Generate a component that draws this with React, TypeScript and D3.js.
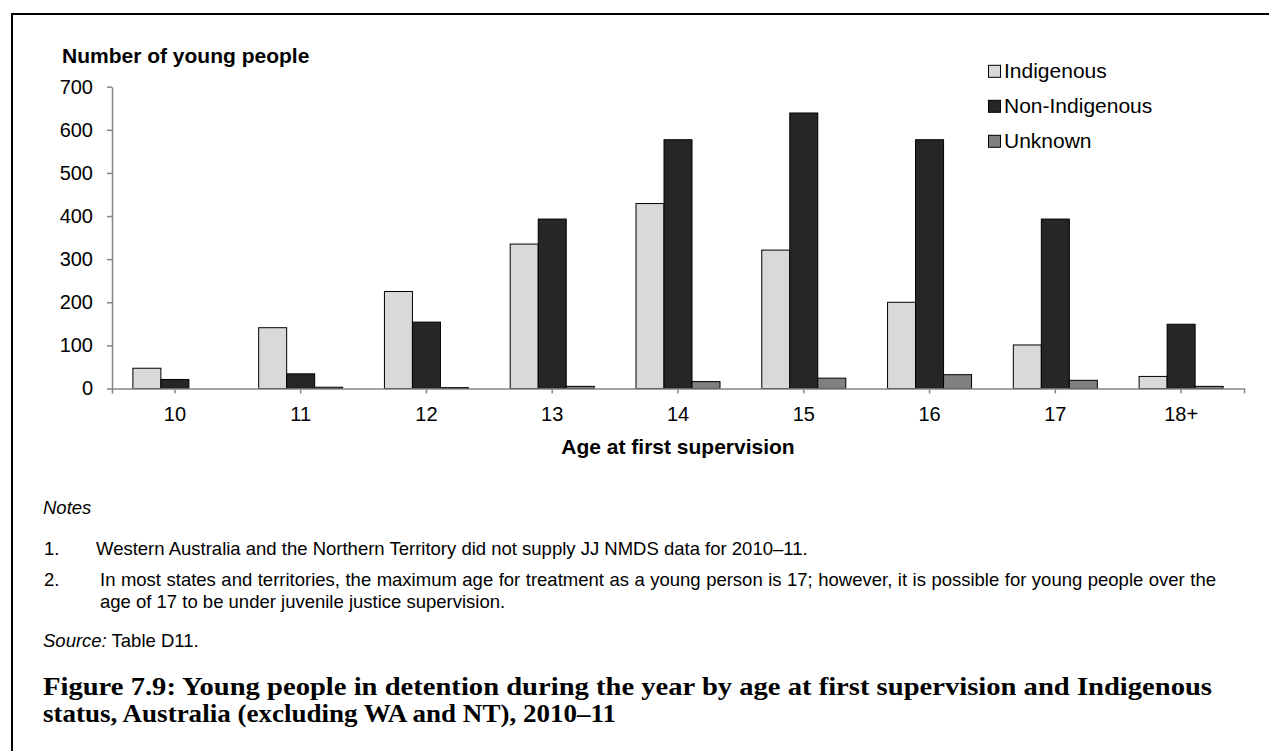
import * as d3 from "d3";
import { useEffect, useRef } from "react";

// age groups on the x axis
const ages = ["10", "11", "12", "13", "14", "15", "16", "17", "18+"];

// young people in detention
const indigenous = [47, 141, 225, 335, 429, 321, 200, 101, 28];
const nonIndigenous = [21, 34, 154, 393, 577, 639, 577, 393, 149];
const unknown = [0, 3, 2, 5, 16, 24, 32, 19, 5];

const seriesNames = ["Indigenous", "Non-Indigenous", "Unknown"];
const seriesColors = ["#d9d9d9", "#262626", "#808080"];
const yTicks = [0, 100, 200, 300, 400, 500, 600, 700];

const notes = [
    { num: "1.", lines: ["Western Australia and the Northern Territory did not supply JJ NMDS data for 2010\u201311."] },
    {
        num: "2.",
        lines: [
            "In most states and territories, the maximum age for treatment as a young person is 17; however, it is possible for young people over the",
            "age of 17 to be under juvenile justice supervision.",
        ],
    },
];

const titleLines = [
    "Figure 7.9: Young people in detention during the year by age at first supervision and Indigenous",
    "status, Australia (excluding WA and NT), 2010\u201311",
];

const sans = "'Liberation Sans', Arial, Helvetica, sans-serif";
const serif = "'Liberation Serif', 'Times New Roman', serif";

export default function App() {
    const svgRef = useRef<SVGSVGElement>(null);

    const width = 1269;
    const height = 751;

    // plot area
    const left = 112;
    const right = 1244;
    const top = 86.7;
    const bottom = 388.5;

    useEffect(() => {
        const svg = d3.select(svgRef.current);
        svg.selectAll("*").remove();

        // frame round the whole figure
        svg.append("rect")
            .attr("x", 12)
            .attr("y", 14)
            .attr("width", 1400)
            .attr("height", 900)
            .attr("fill", "none")
            .attr("stroke", "#000")
            .attr("stroke-width", 2);

        const x0 = d3.scaleBand<string>()
            .domain(ages)
            .range([left, right])
            .paddingInner(0.332)
            .paddingOuter(0.166);

        const x1 = d3.scaleBand<string>()
            .domain(seriesNames)
            .range([0, x0.bandwidth()]);

        const y = d3.scaleLinear()
            .domain([0, 700])
            .range([bottom, top]);

        const color = d3.scaleOrdinal<string, string>()
            .domain(seriesNames)
            .range(seriesColors);

        const rows = ages.map((age, i) => ({
            age,
            values: [
                { key: seriesNames[0], value: indigenous[i] },
                { key: seriesNames[1], value: nonIndigenous[i] },
                { key: seriesNames[2], value: unknown[i] },
            ],
        }));

        // bars
        const groups = svg.append("g")
            .selectAll("g")
            .data(rows)
            .join("g")
            .attr("transform", d => `translate(${x0(d.age)},0)`);

        groups.selectAll("rect")
            .data(d => d.values.filter(v => v.value > 0))
            .join("rect")
            .attr("x", d => x1(d.key)!)
            .attr("y", d => y(d.value))
            .attr("width", x1.bandwidth())
            .attr("height", d => bottom - y(d.value))
            .attr("fill", d => color(d.key))
            .attr("stroke", "#000")
            .attr("stroke-width", 1);

        // y axis
        const yAxis = svg.append("g")
            .attr("transform", `translate(${left},0)`)
            .call(d3.axisLeft(y).tickValues(yTicks).tickSize(5).tickSizeOuter(0).tickPadding(14));
        yAxis.selectAll("path, line").attr("stroke", "#868686").attr("stroke-width", 1.5);
        yAxis.selectAll("text")
            .attr("font-family", sans)
            .attr("font-size", 20)
            .attr("fill", "#000");

        // x axis
        const xAxis = svg.append("g")
            .attr("transform", `translate(0,${bottom})`)
            .call(d3.axisBottom(x0).tickSize(5).tickSizeOuter(5).tickPadding(13.3));
        xAxis.selectAll("path, line").attr("stroke", "#868686").attr("stroke-width", 1.5);
        xAxis.select(".domain").attr("fill", "none");
        xAxis.selectAll("text")
            .attr("font-family", sans)
            .attr("font-size", 20)
            .attr("fill", "#000");

        // axis titles
        svg.append("text")
            .attr("x", 62)
            .attr("y", 63.3)
            .attr("font-family", sans)
            .attr("font-size", 21)
            .attr("font-weight", "bold")
            .text("Number of young people");

        svg.append("text")
            .attr("x", (left + right) / 2)
            .attr("y", 453.5)
            .attr("text-anchor", "middle")
            .attr("font-family", sans)
            .attr("font-size", 21)
            .attr("font-weight", "bold")
            .text("Age at first supervision");

        // legend
        const legend = svg.append("g")
            .selectAll("g")
            .data(seriesNames)
            .join("g")
            .attr("transform", (_, i) => `translate(988,${78.3 + i * 35})`);
        legend.append("rect")
            .attr("x", 0.5)
            .attr("y", -13)
            .attr("width", 12)
            .attr("height", 12)
            .attr("fill", d => color(d))
            .attr("stroke", "#000")
            .attr("stroke-width", 1);
        legend.append("text")
            .attr("x", 16)
            .attr("y", 0)
            .attr("font-family", sans)
            .attr("font-size", 21)
            .text(d => d);

        // notes
        const noteSize = 18.5;
        svg.append("text")
            .attr("x", 43)
            .attr("y", 514.3)
            .attr("font-family", sans)
            .attr("font-size", noteSize)
            .attr("font-style", "italic")
            .text("Notes");

        let lineY = 555;
        notes.forEach(n => {
            svg.append("text")
                .attr("x", 44)
                .attr("y", lineY)
                .attr("font-family", sans)
                .attr("font-size", noteSize)
                .text(n.num);
            n.lines.forEach((line, j) => {
                const startX = n.num === "1." ? 96 : 100;
                const t = svg.append("text")
                    .attr("x", startX)
                    .attr("y", lineY + j * 22)
                    .attr("font-family", sans)
                    .attr("font-size", noteSize)
                    .text(line);
                // first line of a wrapped note is justified by widening the word gaps
                if (n.lines.length > 1 && j < n.lines.length - 1) {
                    const len = (t.node() as SVGTextElement).getComputedTextLength();
                    const gaps = line.split(" ").length - 1;
                    t.attr("word-spacing", Math.max(0, (1216 - startX - len) / gaps));
                }
            });
            lineY += 30.7;
        });

        const source = svg.append("text")
            .attr("x", 43)
            .attr("y", 646.7)
            .attr("font-family", sans)
            .attr("font-size", noteSize);
        source.append("tspan").attr("font-style", "italic").text("Source:");
        source.append("tspan").text(" Table D11.");

        // figure caption, stretched to the width of the original's wider face
        const titleWidths = [1212 - 43, 573];
        titleLines.forEach((line, i) => {
            svg.append("text")
                .attr("x", 43)
                .attr("y", 695 + i * 27)
                .attr("font-family", serif)
                .attr("font-size", 25)
                .attr("font-weight", "bold")
                .attr("textLength", titleWidths[i])
                .attr("lengthAdjust", "spacingAndGlyphs")
                .text(line);
        });
    }, []);

    return (
        <div style={{ position: "absolute", left: 0, top: 0 }}>
            <svg ref={svgRef} width={width} height={height} style={{ display: "block", background: "#fff" }} />
        </div>
    );
}
